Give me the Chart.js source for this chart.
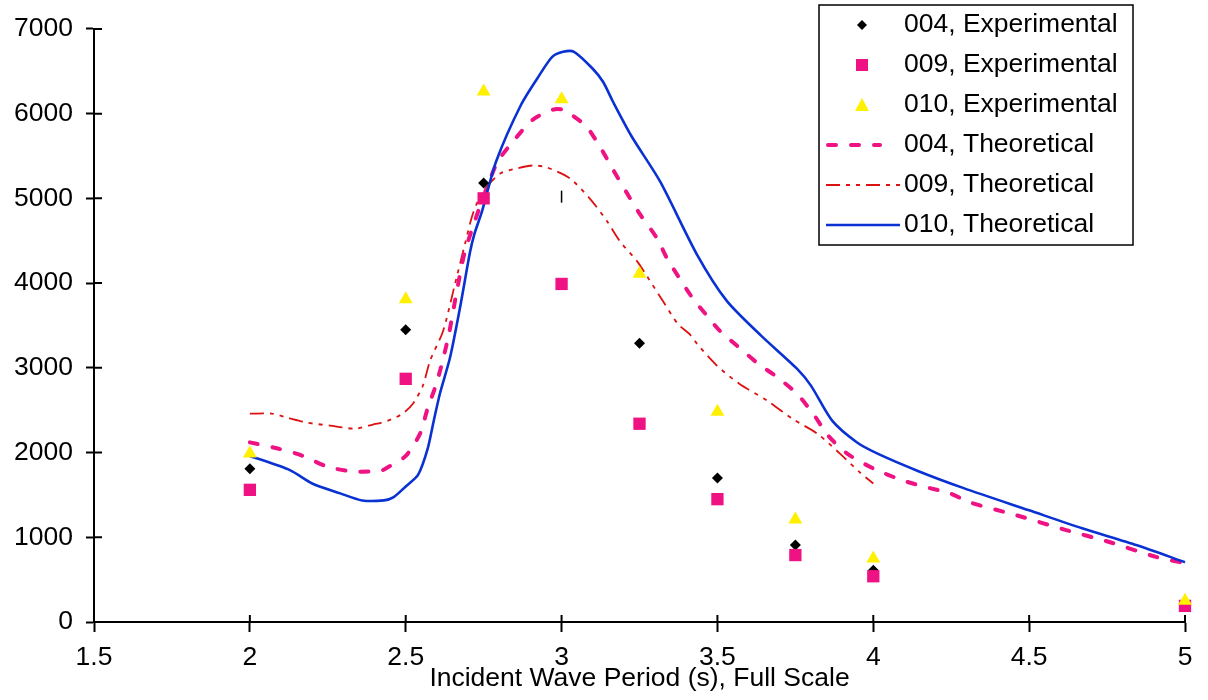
<!DOCTYPE html>
<html>
<head>
<meta charset="utf-8">
<script src="https://cdn.jsdelivr.net/npm/chart.js@4"></script>
<style>
  html, body { margin: 0; padding: 0; background: #fff; }
</style>
</head>
<body>
<canvas id="waveChart" width="1208" height="700"></canvas>
<script>
// experimental runs
const periods = [2, 2.5, 2.75, 3, 3.25, 3.5, 3.75, 4, 5];
const exp004 = [1810, 3450, 5180, 5020, 3290, 1700, 910, 610, 200];
const exp009 = [1560, 2870, 5000, 3990, 2340, 1450, 790, 540, 190];
const exp010 = [1990, 3810, 6260, 6170, 4110, 2480, 1210, 750, 250];

// theoretical curves
const theo004X = [2.0, 2.09, 2.167, 2.247, 2.33, 2.42, 2.44, 2.5, 2.546, 2.571, 2.6, 2.636, 2.664, 2.693, 2.79, 2.844, 2.908, 2.973, 3.005, 3.027, 3.08, 3.123, 3.165, 3.21, 3.252, 3.306, 3.338, 3.42, 3.467, 3.508, 3.563, 3.627, 3.69, 3.755, 3.807, 3.855, 3.916, 4.0, 4.095, 4.16, 4.246, 4.31, 4.46, 4.61, 4.76, 4.91, 5.0];
const theo004Y = [2120, 2047, 1965, 1835, 1776, 1785, 1820, 1960, 2224, 2530, 2830, 3353, 3906, 4412, 5400, 5670, 5930, 6047, 6047, 6000, 5847, 5610, 5340, 5060, 4810, 4530, 4294, 3824, 3612, 3435, 3260, 3059, 2894, 2694, 2459, 2200, 1988, 1812, 1670, 1600, 1518, 1412, 1259, 1094, 941, 765, 694];

const theo009X = [2.0, 2.07, 2.12, 2.183, 2.257, 2.337, 2.395, 2.443, 2.49, 2.523, 2.555, 2.578, 2.62, 2.658, 2.69, 2.716, 2.748, 2.803, 2.857, 2.908, 2.953, 3.027, 3.09, 3.146, 3.187, 3.242, 3.274, 3.325, 3.373, 3.41, 3.435, 3.499, 3.57, 3.66, 3.74, 3.82, 3.893, 3.957, 4.0];
const theo009Y = [2459, 2459, 2412, 2353, 2318, 2282, 2330, 2376, 2459, 2576, 2788, 3082, 3435, 3988, 4459, 4824, 5082, 5294, 5353, 5388, 5365, 5235, 5000, 4730, 4494, 4259, 4082, 3788, 3518, 3400, 3282, 3024, 2812, 2612, 2400, 2224, 1988, 1765, 1635];

const theo010X = [2.0, 2.13, 2.2, 2.29, 2.36, 2.43, 2.46, 2.5, 2.54, 2.57, 2.59, 2.61, 2.642, 2.674, 2.706, 2.72, 2.745, 2.79, 2.87, 2.93, 2.97, 3.005, 3.04, 3.1, 3.133, 3.165, 3.225, 3.316, 3.434, 3.53, 3.64, 3.755, 3.8, 3.868, 3.948, 4.012, 4.145, 4.29, 4.5, 4.67, 4.846, 5.0];
const theo010Y = [1960, 1790, 1635, 1518, 1435, 1435, 1470, 1600, 1740, 2040, 2376, 2700, 3118, 3706, 4360, 4576, 4850, 5435, 6105, 6460, 6670, 6730, 6730, 6530, 6376, 6140, 5730, 5200, 4340, 3790, 3380, 2990, 2790, 2376, 2118, 1990, 1780, 1580, 1318, 1106, 906, 706];

const xTicks = [1.5, 2, 2.5, 3, 3.5, 4, 4.5, 5];
const yTicks = [0, 1000, 2000, 3000, 4000, 5000, 6000, 7000];
const legendLabels = ['004, Experimental', '009, Experimental', '010, Experimental', '004, Theoretical', '009, Theoretical', '010, Theoretical'];
const xTitle = 'Incident Wave Period (s), Full Scale';

const FONT = '"Liberation Sans", Arial, sans-serif';
const FSIZE = 26.5;
const BLUE = '#0a32d2', PINK = '#ee1283', RED = '#dc1212', YELLOW = '#fff000';

const pts = (xs, ys) => xs.map((x, i) => ({ x: x, y: ys[i] }));

// the 004 point at T=3 shows up as a short vertical tick in the source
const style004 = periods.map(p => p === 3 ? 'line' : 'rectRot');
const rot004 = periods.map(p => p === 3 ? 90 : 0);
const rad004 = periods.map(p => p === 3 ? 6 : 5.5);
const bw004 = periods.map(p => p === 3 ? 1.5 : 0);

const datasets = [
    { label: legendLabels[2], data: pts(periods, exp010), pointStyle: 'triangle', pointRadius: 8, backgroundColor: YELLOW, borderColor: YELLOW, borderWidth: 0, showLine: false, clip: false },
    { label: legendLabels[1], data: pts(periods, exp009), pointStyle: 'rect', pointRadius: 8.7, backgroundColor: PINK, borderColor: PINK, borderWidth: 0, showLine: false, clip: false },
    { label: legendLabels[0], data: pts(periods, exp004), pointStyle: style004, pointRotation: rot004, pointRadius: rad004, pointBorderWidth: bw004, backgroundColor: '#000', borderColor: '#000', showLine: false, clip: false },
    { label: legendLabels[5], data: pts(theo010X, theo010Y), showLine: true, pointRadius: 0, borderColor: BLUE, borderWidth: 2.6, tension: 0.25, fill: false, clip: false },
    { label: legendLabels[3], data: pts(theo004X, theo004Y), showLine: true, pointRadius: 0, borderColor: PINK, borderWidth: 4, borderDash: [8, 15], borderCapStyle: 'round', tension: 0.25, fill: false, clip: false },
    { label: legendLabels[4], data: pts(theo009X, theo009Y), showLine: true, pointRadius: 0, borderColor: RED, borderWidth: 1.8, borderDash: [14, 6, 4, 6, 4, 6], tension: 0.25, fill: false, clip: false }
];

// tick marks in the source cross the axis line, so draw the inner half too
const innerTicks = {
    id: 'innerTicks',
    beforeDatasetsDraw(chart) {
        const { ctx, chartArea, scales } = chart;
        ctx.save();
        ctx.strokeStyle = '#000';
        ctx.lineWidth = 2;
        ctx.beginPath();
        xTicks.forEach(v => {
            const px = scales.x.getPixelForValue(v);
            ctx.moveTo(px, chartArea.bottom);
            ctx.lineTo(px, chartArea.bottom - 7);
        });
        yTicks.forEach(v => {
            const py = scales.y.getPixelForValue(v);
            ctx.moveTo(chartArea.left, py);
            ctx.lineTo(chartArea.left + 8, py);
        });
        ctx.stroke();
        ctx.restore();
    }
};

// boxed legend sitting in the top right corner
const boxLegend = {
    id: 'boxLegend',
    afterDraw(chart) {
        const ctx = chart.ctx;
        const left = 819, top = 5, w = 314, h = 240;
        ctx.save();
        ctx.fillStyle = '#fff';
        ctx.fillRect(left, top, w, h);
        ctx.strokeStyle = '#000';
        ctx.lineWidth = 1.5;
        ctx.strokeRect(left, top, w, h);

        ctx.font = FSIZE + 'px ' + FONT;
        ctx.textBaseline = 'middle';
        ctx.textAlign = 'left';

        const mx = 862;
        legendLabels.forEach((txt, i) => {
            const y = 25 + i * 40;
            ctx.fillStyle = '#000';
            ctx.fillText(txt, 904, y);
            ctx.beginPath();
            if (i === 0) {
                ctx.fillStyle = '#000';
                ctx.moveTo(mx - 5, y); ctx.lineTo(mx, y - 5); ctx.lineTo(mx + 5, y); ctx.lineTo(mx, y + 5);
                ctx.closePath(); ctx.fill();
            } else if (i === 1) {
                ctx.fillStyle = PINK;
                ctx.fillRect(mx - 6, y - 6, 12, 12);
            } else if (i === 2) {
                ctx.fillStyle = YELLOW;
                ctx.moveTo(mx, y - 7); ctx.lineTo(mx + 7, y + 6); ctx.lineTo(mx - 7, y + 6);
                ctx.closePath(); ctx.fill();
            } else {
                const ds = [null, null, null, datasets[4], datasets[5], datasets[3]][i];
                ctx.strokeStyle = ds.borderColor;
                ctx.lineWidth = ds.borderWidth;
                ctx.lineCap = ds.borderCapStyle || 'butt';
                ctx.setLineDash(ds.borderDash || []);
                ctx.moveTo(i === 3 ? 828 : 826, y);
                ctx.lineTo(i === 3 ? 880 : 900, y);
                ctx.stroke();
                ctx.setLineDash([]);
            }
        });
        ctx.restore();
    }
};

new Chart(document.getElementById('waveChart').getContext('2d'), {
    type: 'scatter',
    data: { datasets: datasets },
    options: {
        responsive: false,
        animation: false,
        layout: { padding: { top: 27, right: 23, left: 0, bottom: 0 } },
        plugins: { legend: { display: false }, tooltip: { enabled: false } },
        scales: {
            x: {
                type: 'linear', min: 1.5, max: 5,
                afterBuildTicks: s => { s.ticks = xTicks.map(v => ({ value: v })); },
                afterFit: s => { s.height = 78; },
                ticks: { color: '#000', font: { family: FONT, size: FSIZE }, padding: 10, maxRotation: 0, callback: v => String(v) },
                grid: { drawOnChartArea: false, tickLength: 10, tickWidth: 2, tickColor: '#000' },
                border: { display: true, color: '#000', width: 2 },
                title: { display: true, text: xTitle, color: '#000', font: { family: FONT, size: FSIZE }, padding: { top: 0, bottom: 5 } }
            },
            y: {
                min: 0, max: 7000,
                afterBuildTicks: s => { s.ticks = yTicks.map(v => ({ value: v })); },
                afterFit: s => { s.width = 94; },
                ticks: { color: '#000', font: { family: FONT, size: FSIZE }, padding: 13, callback: v => String(v) },
                grid: { drawOnChartArea: false, tickLength: 8, tickWidth: 2, tickColor: '#000' },
                border: { display: true, color: '#000', width: 2 }
            }
        }
    },
    plugins: [innerTicks, boxLegend]
});
</script>
</body>
</html>
